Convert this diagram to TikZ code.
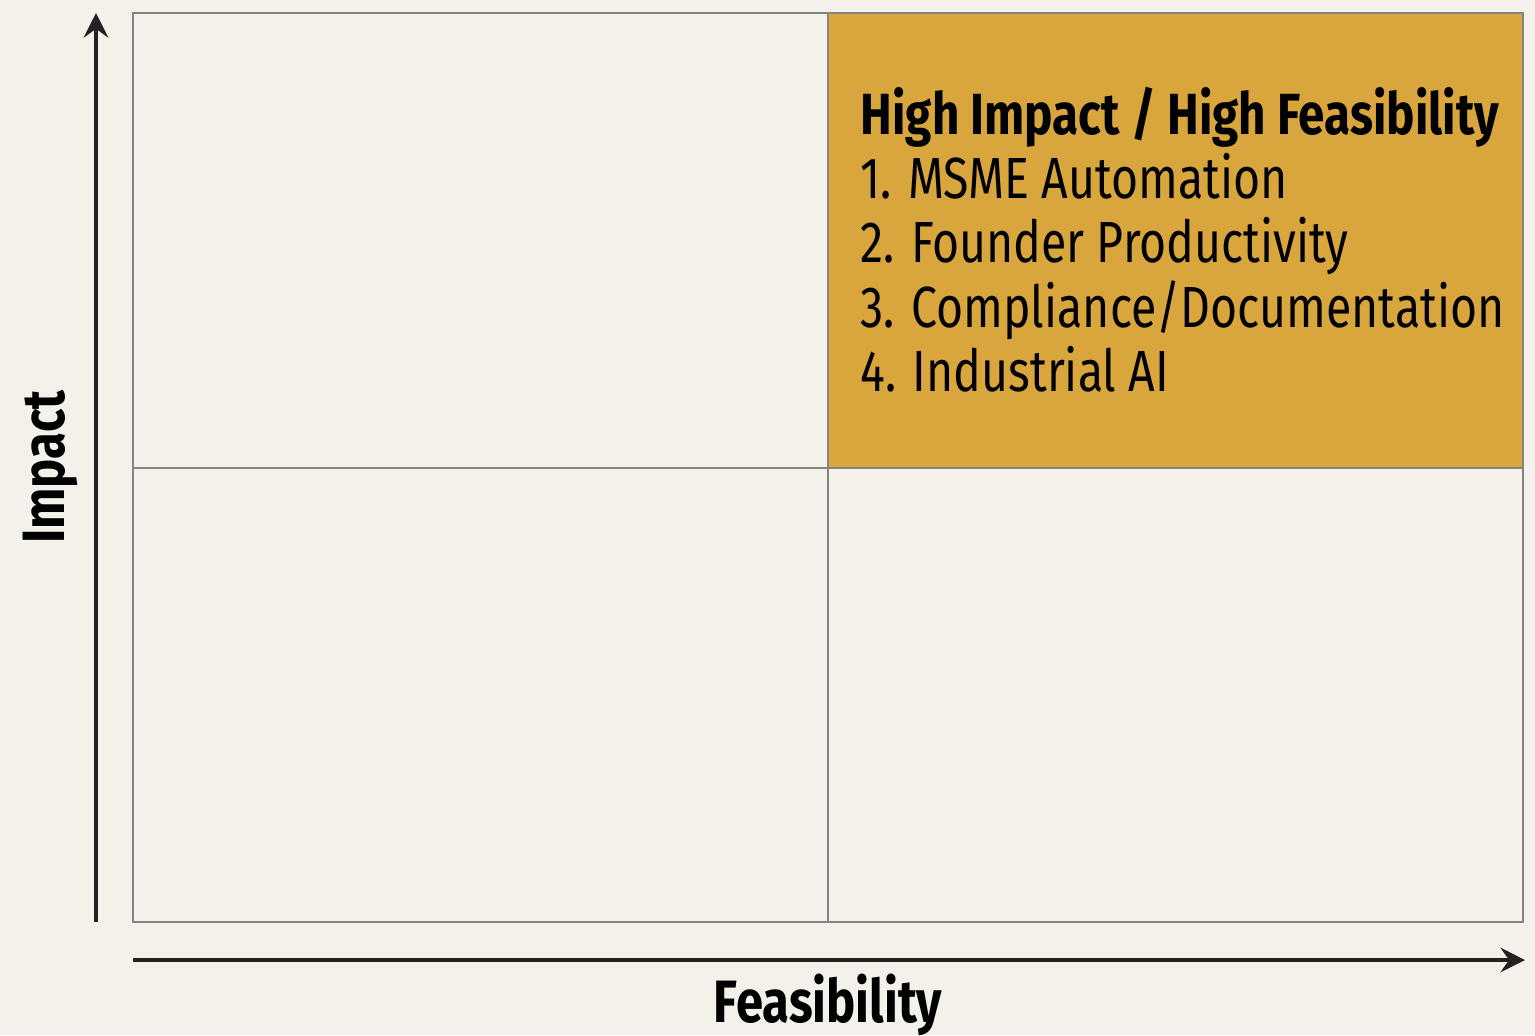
\documentclass[tikz,border=0pt]{standalone}
\usepackage{fontspec}
\setmainfont{Fira Sans}[FakeStretch=0.80, BoldFeatures={FakeStretch=0.82}]
\usepackage{tikz}
\usetikzlibrary{positioning,arrows.meta}

\definecolor{paper}{HTML}{F3F1EA}
\definecolor{gold}{HTML}{D9A63E}
\definecolor{gridline}{HTML}{858380}
\definecolor{ink}{HTML}{222222}

\begin{document}
\begin{tikzpicture}[x=0.01cm, y=-0.01cm,
	quad/.style={draw=gridline, line width=0.8pt},
	hot/.style={fill=gold, draw=none},
	axis/.style={draw=ink, line width=0.9pt, -{Stealth[length=7pt, width=7pt, inset=2.5pt]}},
	axislabel/.style={font=\fontsize{17}{20}\selectfont\bfseries, text=black},
	itemlist/.style={font=\fontsize{16.5}{18.3}\selectfont, text=black, align=left, anchor=north west, inner sep=0pt}]

	\useasboundingbox[fill=paper] (0,0) rectangle (1535,1035);

	% corners of the grid
	\coordinate (tl) at (133,13);
	\coordinate (br) at (1523,922);
	\coordinate (mid) at (828,468);

	% highlighted quadrant
	\fill[hot] (mid) rectangle (br |- tl);

	\draw[quad] (tl) rectangle (br);
	\draw[quad] (mid |- tl) -- (mid |- br);
	\draw[quad] (tl |- mid) -- (br |- mid);

	% axes
	\coordinate (yfoot) at (96,922);
	\coordinate (ytip) at (96,13);
	\coordinate (xfoot) at (133,960);
	\coordinate (xtip) at (1525,960);
	\draw[axis] (yfoot) -- (ytip);
	\draw[axis] (xfoot) -- (xtip);

	\node (impact) [axislabel, rotate=90] at (50,467) {Impact};
	\node (feasibility) [axislabel] at (828,1005) {Feasibility};

	\node (items) [itemlist] at (860,86) {%
		\textbf{High Impact / High Feasibility}\\
		1. MSME Automation\\
		2. Founder Productivity\\
		3. Compliance/Documentation\\
		4. Industrial AI};

\end{tikzpicture}
\end{document}
